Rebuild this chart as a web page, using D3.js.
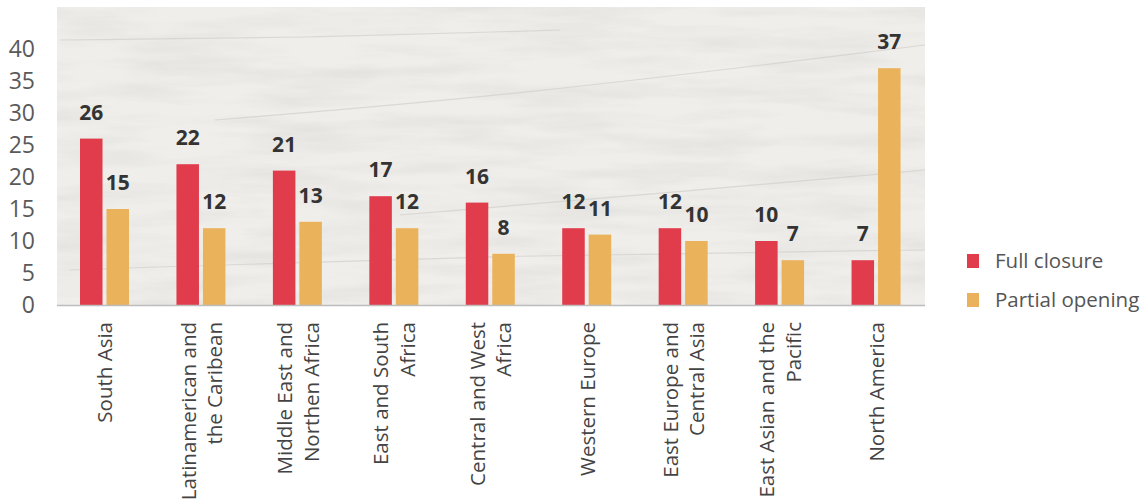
<!DOCTYPE html>
<html>
<head>
<meta charset="utf-8">
<script src="https://cdn.jsdelivr.net/npm/d3@7"></script>
<style>
  body { margin: 0; background: #fff; }
  text { font-family: "Open Sans", "DejaVu Sans", sans-serif; }
</style>
</head>
<body>
<div id="chart"></div>
<script>
// regions and values
var regions = [
  ["South Asia"],
  ["Latinamerican and", "the Caribean"],
  ["Middle East and", "Northen Africa"],
  ["East and South", "Africa"],
  ["Central and West", "Africa"],
  ["Western Europe"],
  ["East Europe and", "Central Asia"],
  ["East Asian and the", "Pacific"],
  ["North America"]
];
var fullClosure = [26, 22, 21, 17, 16, 12, 12, 10, 7];
var partialOpening = [15, 12, 13, 12, 8, 11, 10, 7, 37];
var seriesNames = ["Full closure", "Partial opening"];
var yTicks = [0, 5, 10, 15, 20, 25, 30, 35, 40];

var colors = {"Full closure": "#e03c4c", "Partial opening": "#eab25a"};

var width = 1146, height = 503;

var svg = d3.select("#chart")
  .append("svg")
  .attr("width", width)
  .attr("height", height);

// paper-like texture for the plot area (light, streaky)
var defs = svg.append("defs");
var filt = defs.append("filter").attr("id", "paper")
  .attr("x", 0).attr("y", 0).attr("width", 1).attr("height", 1);
filt.append("feTurbulence")
  .attr("type", "fractalNoise")
  .attr("baseFrequency", "0.008 0.06")
  .attr("numOctaves", 4)
  .attr("seed", 7)
  .attr("result", "noise");
filt.append("feColorMatrix")
  .attr("in", "noise")
  .attr("type", "matrix")
  .attr("values", "0 0 0 0 0.6  0 0 0 0 0.59  0 0 0 0 0.57  0 0 0 -0.6 0.38")
  .attr("result", "tint");
filt.append("feComposite").attr("in", "tint").attr("in2", "SourceGraphic").attr("operator", "in");

var x0 = d3.scaleBand()
  .domain(regions.map(function(d, i) { return i; }))
  .range([57, 925])
  .padding(0);

var x1 = d3.scaleBand()
  .domain(seriesNames)
  .range([23, 72])
  .paddingInner(0.15);

var y = d3.scaleLinear()
  .domain([0, 40])
  .range([305, 49]);

// background
svg.append("rect")
  .attr("x", 57).attr("y", 7)
  .attr("width", 868).attr("height", 298)
  .attr("fill", "#efeeeb");
svg.append("rect")
  .attr("x", 57).attr("y", 7)
  .attr("width", 868).attr("height", 298)
  .attr("fill", "#fff")
  .attr("filter", "url(#paper)");

// a few faint scratches like the paper in the original
var scratches = [
  [[215, 120], [520, 95], [925, 45]],
  [[400, 215], [700, 190], [925, 170]],
  [[70, 270], [500, 255], [925, 250]],
  [[60, 40], [300, 38], [560, 30]]
];
svg.append("g").selectAll("path")
  .data(scratches)
  .enter().append("path")
  .attr("d", d3.line().curve(d3.curveBasis))
  .attr("fill", "none")
  .attr("stroke", "#d2cfcb")
  .attr("stroke-width", 1.2)
  .attr("opacity", 0.7);

// y axis labels
svg.append("g").selectAll("text")
  .data(yTicks)
  .enter().append("text")
  .attr("x", 35)
  .attr("y", function(d) { return y(d); })
  .attr("dy", "0.35em")
  .attr("text-anchor", "end")
  .attr("font-size", 23)
  .attr("fill", "#5a5a5a")
  .text(function(d) { return d; });

// bars
var rows = regions.map(function(r, i) {
  return [
    {i: i, key: "Full closure", value: fullClosure[i]},
    {i: i, key: "Partial opening", value: partialOpening[i]}
  ];
});

var groups = svg.append("g").selectAll("g")
  .data(rows)
  .enter().append("g")
  .attr("transform", function(d, i) { return "translate(" + x0(i) + ",0)"; });

groups.selectAll("rect")
  .data(function(d) { return d; })
  .enter().append("rect")
  .attr("x", function(d) { return x1(d.key); })
  .attr("y", function(d) { return y(d.value); })
  .attr("width", x1.bandwidth())
  .attr("height", function(d) { return y(0) - y(d.value); })
  .attr("fill", function(d) { return colors[d.key]; });

groups.selectAll("text")
  .data(function(d) { return d; })
  .enter().append("text")
  .attr("x", function(d) { return x1(d.key) + x1.bandwidth() / 2; })
  .attr("y", function(d) { return y(d.value) - 19; })
  .attr("text-anchor", "middle")
  .attr("font-size", 21)
  .attr("font-weight", 700)
  .attr("fill", "#333")
  .text(function(d) { return d.value; });

// baseline
svg.append("line")
  .attr("x1", 57).attr("x2", 925)
  .attr("y1", y(0) + 0.5).attr("y2", y(0) + 0.5)
  .attr("stroke", "#bdbdbd")
  .attr("stroke-width", 1.5);

// category labels, rotated, right aligned to the axis
var lineGap = 26.5;
svg.append("g").selectAll("text")
  .data(regions)
  .enter().append("text")
  .attr("transform", function(d, i) {
    var cx = x0(i) + x0.bandwidth() / 2;
    return "translate(" + cx + ",322) rotate(-90)";
  })
  .attr("text-anchor", "end")
  .attr("font-size", 20.5)
  .attr("fill", "#444")
  .each(function(d) {
    var t = d3.select(this);
    var off = -(d.length - 1) * lineGap / 2;
    d.forEach(function(line, k) {
      t.append("tspan")
        .attr("x", 0)
        .attr("y", off + k * lineGap)
        .attr("dy", "0.35em")
        .text(line);
    });
  });

// legend
var legend = svg.append("g").selectAll("g")
  .data(seriesNames)
  .enter().append("g")
  .attr("transform", function(d, i) { return "translate(967," + (254 + i * 39) + ")"; });

legend.append("rect")
  .attr("width", 12)
  .attr("height", 14)
  .attr("fill", function(d) { return colors[d]; });

legend.append("text")
  .attr("x", 28)
  .attr("y", 7)
  .attr("dy", "0.35em")
  .attr("font-size", 20.5)
  .attr("fill", "#555")
  .text(function(d) { return d; });
</script>
</body>
</html>
